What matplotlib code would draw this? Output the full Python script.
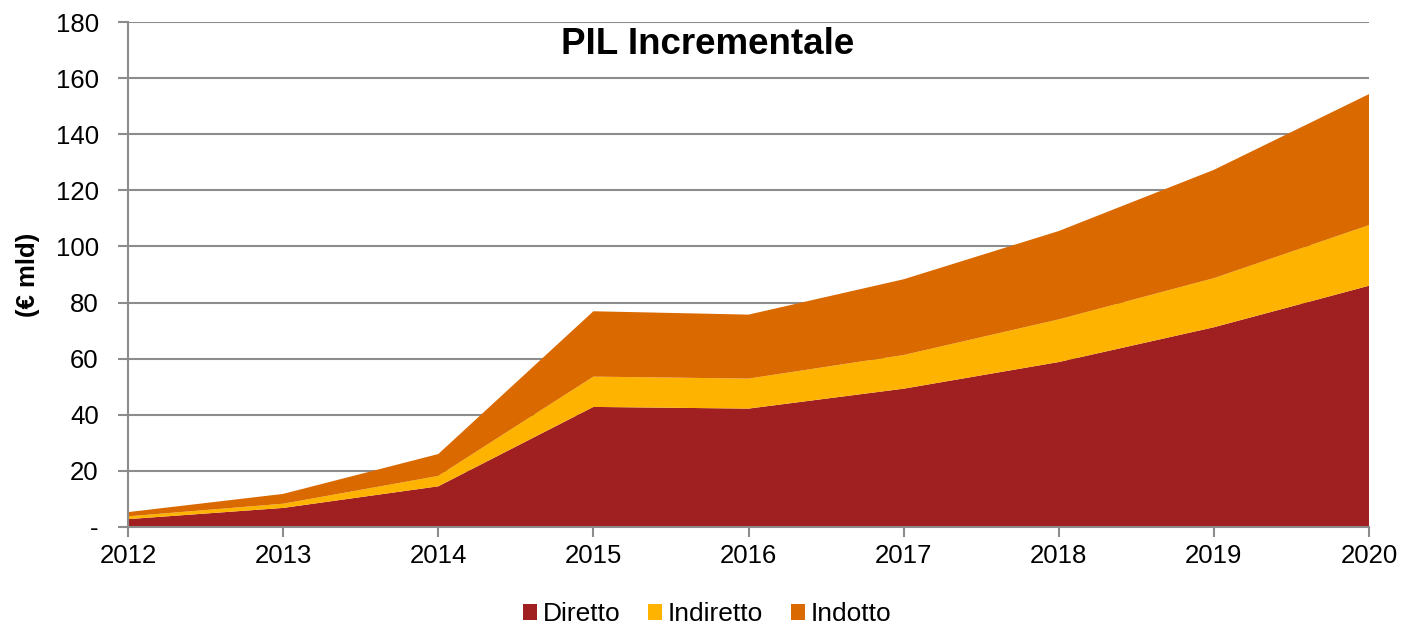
import matplotlib.pyplot as plt
import numpy as np

plt.rcParams['font.family'] = ['Liberation Sans', 'DejaVu Sans']

years = [2012, 2013, 2014, 2015, 2016, 2017, 2018, 2019, 2020]
# valori per componente (€ mld)
diretto = [2.8, 6.8, 14.5, 42.8, 42.2, 49.3, 58.8, 71.2, 86.0]
indiretto = [1.0, 1.5, 3.7, 10.8, 10.7, 12.0, 15.2, 17.5, 21.6]
indotto = [1.5, 3.5, 7.8, 23.3, 22.8, 27.0, 31.5, 38.6, 46.7]

labels = ['Diretto', 'Indiretto', 'Indotto']
colors = ['#A01F20', '#FDB300', '#DA6900']
grid_col = '#8C8C8C'

fig = plt.figure(figsize=(14.02, 6.26), dpi=100)
ax = fig.add_axes([128/1402, 1-527/626, (1369-128)/1402, (527-22)/626])

ax.stackplot(years, diretto, indiretto, indotto, colors=colors, labels=labels,
             linewidth=0, zorder=3)

ax.set_xlim(2012, 2020)
ax.set_ylim(0, 180)
ax.set_xticks(years)
yt = np.arange(0, 181, 20)
ax.set_yticks(yt)
ax.set_yticklabels(['-'] + [str(v) for v in yt[1:]])
ax.tick_params(axis='both', labelsize=18.5, colors=grid_col, labelcolor='black',
               width=1.5)
ax.tick_params(axis='x', length=7, pad=5)
ax.tick_params(axis='y', length=7, pad=14)

ax.grid(axis='y', color=grid_col, linewidth=1.5, zorder=0)
ax.set_axisbelow(True)
for s in ['top', 'right']:
    ax.spines[s].set_visible(False)
for s in ['left', 'bottom']:
    ax.spines[s].set_color(grid_col)
    ax.spines[s].set_linewidth(1.5)
    ax.spines[s].set_zorder(4)

ax.set_ylabel('(€ mld)', fontsize=18.5, fontweight='bold')
ax.yaxis.set_label_coords(-88/1241, 0.5)
ax.text(0.467, 0.955, 'PIL Incrementale', transform=ax.transAxes,
        ha='center', va='center', fontsize=26.5, fontweight='bold')

leg = fig.legend(loc='center', bbox_to_anchor=(707/1402, 1-614/626), ncol=3,
                 frameon=False, fontsize=19, handlelength=0.55, handleheight=0.55,
                 handletextpad=0.2, columnspacing=1.05)

fig.savefig('out.png', dpi=100)
